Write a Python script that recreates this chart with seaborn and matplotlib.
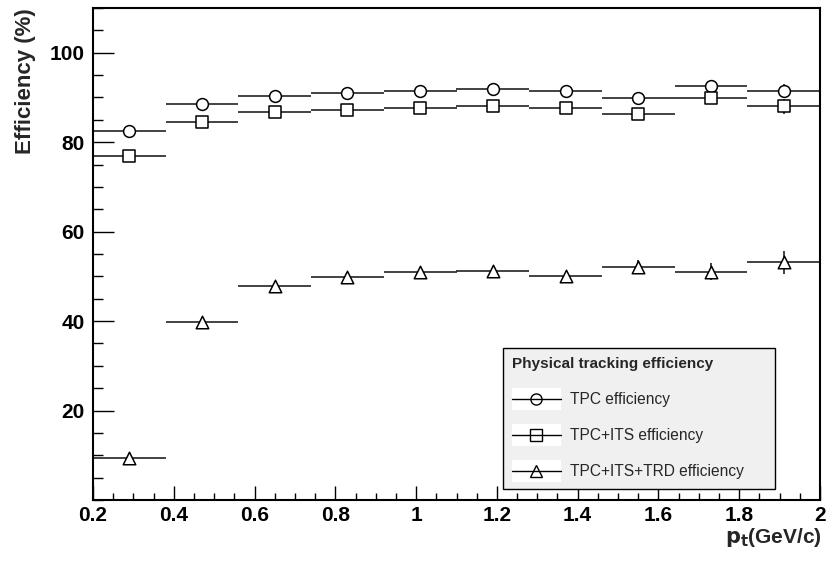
import numpy as np
import pandas as pd
import seaborn as sns
import matplotlib
matplotlib.use("Agg")
import matplotlib.pyplot as plt
from matplotlib.ticker import MultipleLocator
from matplotlib.lines import Line2D
from matplotlib.patches import Rectangle
from matplotlib.legend_handler import HandlerBase

# ---- data ----
pt_centers = [0.29, 0.47, 0.65, 0.83, 1.01, 1.19, 1.37, 1.55, 1.73, 1.91]
bin_half_width = 0.09
tpc_eff = [82.5, 88.5, 90.4, 90.9, 91.5, 91.9, 91.5, 89.8, 92.6, 91.4]
tpc_err = [0.5, 0.5, 0.5, 0.5, 0.6, 0.6, 0.7, 0.8, 1.0, 1.6]
its_eff = [76.8, 84.5, 86.8, 87.2, 87.7, 88.2, 87.7, 86.3, 89.8, 88.0]
its_err = [0.5, 0.5, 0.5, 0.6, 0.6, 0.7, 0.7, 0.9, 1.0, 1.6]
trd_eff = [9.4, 39.9, 47.8, 49.9, 50.9, 51.3, 50.1, 52.1, 51.0, 53.1]
trd_err = [0.4, 0.6, 0.7, 0.8, 0.9, 1.0, 1.1, 1.5, 1.9, 2.5]
series_labels = ["TPC efficiency", "TPC+ITS efficiency", "TPC+ITS+TRD efficiency"]
legend_title = "Physical tracking efficiency"


class BoxedMarkerHandler(HandlerBase):
    """Legend key: white box, line across it, open marker in the middle."""
    def create_artists(self, legend, orig_handle, xdescent, ydescent,
                       width, height, fontsize, trans):
        bg = Rectangle((-xdescent, -ydescent - 0.25 * height), width, height * 1.5,
                       facecolor="white", edgecolor="none", transform=trans)
        yc = -ydescent + height / 2
        ln = Line2D([-xdescent, -xdescent + width], [yc, yc], color="black",
                    lw=1.0, transform=trans)
        mk = Line2D([-xdescent + width / 2], [yc], marker=orig_handle.get_marker(),
                    markersize=orig_handle.get_markersize(), markerfacecolor="none",
                    markeredgecolor="black", markeredgewidth=1.0, linestyle="none",
                    transform=trans)
        return [bg, ln, mk]


sns.set_theme(style="white")
plt.rcParams["font.family"] = ["Liberation Sans", "DejaVu Sans"]

fig = plt.figure(figsize=(8.26, 5.66), dpi=100)
ax = fig.add_axes([93 / 826, 1 - 500 / 566, 727 / 826, 492 / 566])

markers = ["o", "s", "^"]
effs = [tpc_eff, its_eff, trd_eff]
errs = [tpc_err, its_err, trd_err]
handles = []
for lab, m, e, er in zip(series_labels, markers, effs, errs):
    df = pd.DataFrame({"pt": pt_centers, "eff": e})
    ax.errorbar(pt_centers, e, xerr=bin_half_width, yerr=er, fmt="none",
                ecolor="#222222", elinewidth=1.2, capsize=0, zorder=2)
    ms = 8.5 if m != "^" else 9
    sns.scatterplot(data=df, x="pt", y="eff", marker=m, s=ms ** 2,
                    facecolor="white", edgecolor="black", linewidth=1.1,
                    ax=ax, zorder=3, legend=False)
    handles.append(Line2D([], [], color="black", marker=m,
                          markersize=8 if m != "^" else 8.5))

ax.set_xlim(0.2, 2.0)
ax.set_ylim(0, 110)
ax.xaxis.set_minor_locator(MultipleLocator(0.05))
ax.yaxis.set_minor_locator(MultipleLocator(5))
ax.set_yticks([20, 40, 60, 80, 100])
ax.set_xticks([0.2, 0.4, 0.6, 0.8, 1.0, 1.2, 1.4, 1.6, 1.8, 2.0])
ax.set_xticklabels(["0.2", "0.4", "0.6", "0.8", "1", "1.2", "1.4", "1.6", "1.8", "2"])

ax.tick_params(axis="both", which="both", direction="in", colors="black",
               labelsize=15, bottom=True, left=True, top=False, right=False)
ax.tick_params(axis="x", which="major", length=10, width=1.0, pad=4)
ax.tick_params(axis="x", which="minor", length=5, width=1.0)
ax.tick_params(axis="y", which="major", length=15, width=1.0, pad=6)
ax.tick_params(axis="y", which="minor", length=7.5, width=1.0)
for lbl in ax.get_xticklabels() + ax.get_yticklabels():
    lbl.set_fontweight("bold")

for sp in ax.spines.values():
    sp.set_color("black")
    sp.set_linewidth(1.5)

ax.set_ylabel("Efficiency (%)", fontsize=16, fontweight="bold", loc="top")
ax.yaxis.set_label_coords(-0.078, 1.0)
ax.set_xlabel(r"$\mathbf{p_{t}}$(GeV/c)", fontsize=15, fontweight="bold", loc="right")
ax.xaxis.set_label_coords(1.003, -0.052)

x0 = (503 - 93) / 727
y1 = 1 - (348 - 8) / 492
w = (775 - 503) / 727
h = (489 - 348) / 492
leg = ax.legend(handles, series_labels, title=legend_title,
                handler_map={Line2D: BoxedMarkerHandler()},
                loc="upper left", bbox_to_anchor=(x0, y1 - h, w, h), mode="expand",
                frameon=True, fancybox=False, framealpha=1, facecolor="#f0f0f0",
                edgecolor="black", fontsize=11.2, title_fontsize=11,
                handlelength=3.1, handleheight=1.1, handletextpad=0.6,
                labelspacing=1.3, borderpad=0.6, borderaxespad=0)
leg.get_frame().set_linewidth(1.0)
leg._legend_box.align = "left"
leg.get_title().set_fontweight("bold")

fig.savefig("out.png", dpi=100, facecolor="white")
